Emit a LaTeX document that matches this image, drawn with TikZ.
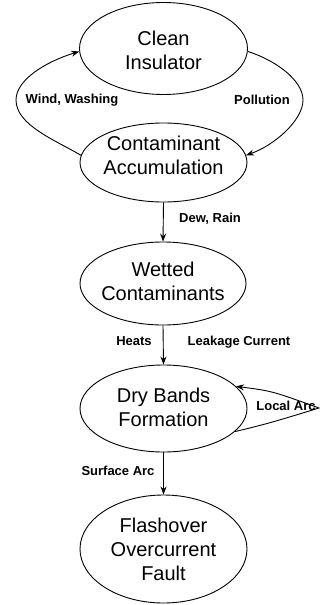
\documentclass[tikz,border=0pt]{standalone}
\usepackage{fontspec}
\setmainfont{Liberation Sans}
\usetikzlibrary{shapes.geometric,arrows.meta}
\begin{document}
\begin{tikzpicture}[x=1pt,y=-1pt,
  ell/.style={draw, ellipse, line width=0.9pt, inner sep=0pt},
  etext/.style={font=\fontsize{20}{24}\selectfont, align=center, inner sep=0pt},
  lab/.style={font=\fontsize{13}{15}\selectfont\bfseries, inner sep=0pt},
  arr/.style={-{Stealth[length=8pt,width=6pt]}, line width=0.9pt},
  conn/.style={line width=0.9pt}]
\useasboundingbox (0,0) rectangle (320,605);
% ellipses
\node[ell, minimum width=168pt, minimum height=92pt] (clean) at (163.5,48.5) {};
\node[ell, minimum width=167pt, minimum height=79pt] (cont) at (163.5,162.5) {};
\node[ell, minimum width=166pt, minimum height=83pt] (wet) at (163,283.5) {};
\node[ell, minimum width=167pt, minimum height=87pt] (dry) at (163.5,408.5) {};
\node[ell, minimum width=167pt, minimum height=108pt] (flash) at (163.5,549) {};
% texts
\node[etext] (tclean) at (163.5,50) {Clean\\Insulator};
\node[etext] (tcont) at (163.5,155) {Contaminant\\Accumulation};
\node[etext] (twet) at (163,281) {Wetted\\Contaminants};
\node[etext] (tdry) at (163.5,407) {Dry Bands\\Formation};
\node[etext] (tflash) at (163.5,549) {Flashover\\Overcurrent\\Fault};
% vertical arrows
\draw[arr] (cont.south) -- (wet.north);
\draw[arr] (wet.south) -- (dry.north);
\draw[arr] (dry.south) -- (flash.north);
% loops
\coordinate (lw) at (16,100);
\coordinate (rw) at (303,100);
\draw[arr] (cont.175) .. controls (55,140) and (16,125) .. (lw)
  .. controls (16,80) and (45,62) .. (clean.182);
\draw[arr] (clean.-2) .. controls (275,60) and (303,80) .. (rw)
  .. controls (303,120) and (275,145) .. (cont.5);
\coordinate (tip) at (319,408);
\draw[arr] (dry.-18) .. controls (270,423) .. (tip)
  .. controls (272,391) .. (dry.17);
% labels
\node[lab] (lwind) at (72,100) {Wind, Washing};
\node[lab] (lpol) at (262,100) {Pollution};
\node[lab] (ldew) at (210,219) {Dew, Rain};
\node[lab] (lheat) at (134,341) {Heats};
\node[lab] (lleak) at (239,342) {Leakage Current};
\node[lab] (lsurf) at (118,471) {Surface Arc};
\node[lab] (lloc) at (286,406) {Local Arc};
\end{tikzpicture}
\end{document}
